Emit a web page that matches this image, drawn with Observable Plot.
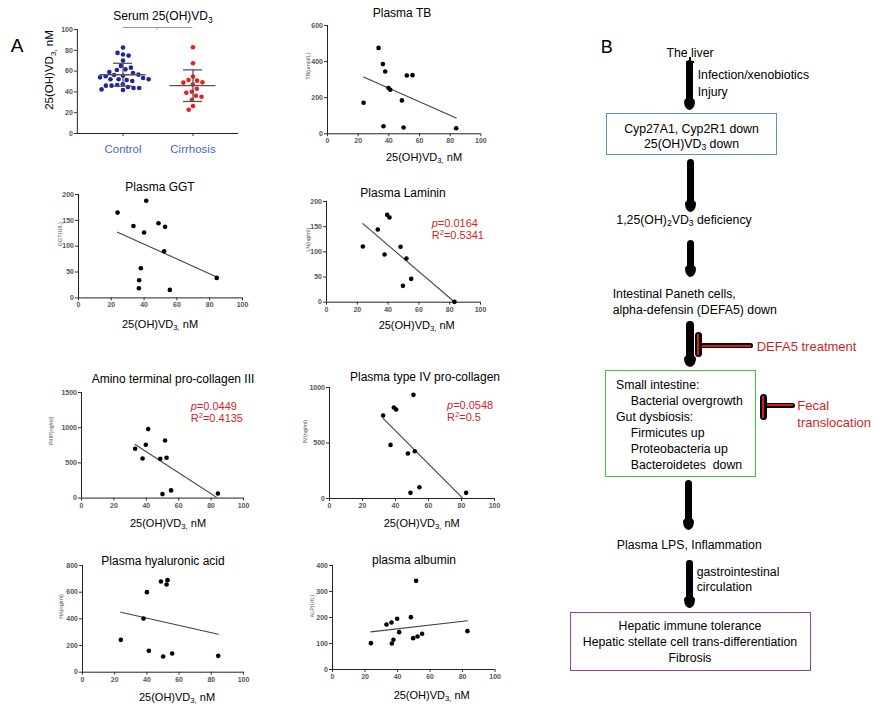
<!DOCTYPE html>
<html><head><meta charset="utf-8">
<script src="https://cdn.jsdelivr.net/npm/d3@7"></script>
<script src="https://cdn.jsdelivr.net/npm/@observablehq/plot@0.6"></script>
<style>
body{margin:0;background:#fff;}
#fig{position:relative;width:884px;height:709px;overflow:hidden;background:#fff;font-family:"Liberation Sans",Arial,sans-serif;color:#000;}
.abs{position:absolute;white-space:nowrap;line-height:1;}
sub{font-size:70%;vertical-align:-0.3em;line-height:0;}
sup{font-size:70%;vertical-align:0.45em;line-height:0;}
.shape{position:absolute;box-sizing:border-box;}
</style></head><body><div id="fig"></div>
<script>
// ---------------- data ----------------
const groups = ["Control", "Cirrhosis"];
const controlVD = [82.6,75.9,77.5,74.9,70.1,65.0,61.7,61.1,63.3,58.2,55.6,56.3,59.2,56.6,55.0,52.1,51.4,53.4,50.5,52.1,54.0,52.1,47.3,44.7,46.6,46.0,43.7,43.7,46.0,42.4,41.8];
const cirrhosisVD = [83,67.5,54.7,51.4,50.8,49.2,48.9,47,43,40.2,39.2,36.3,35.4,32.4,26.4,22.8];
const groupMean = [56.5, 46.0];
const groupSD = [11.0, 15.2];
const vdTicks = [0,20,40,60,80,100];

const xTicks = [0,20,40,60,80,100];
const tbX = [23.5,33.3,36.1,37.6,39.8,40.9,36.5,48.5,49.6,51.7,55.4,83.9];
const tbY = [172,476,386,345,253,244,42,185,35,323,325,31];
const tbTicks = [0,200,400,600];
const ggtX = [23.8,33.5,40,41.3,48.8,52.8,52.2,38,37,36.8,55.7,84.3];
const ggtY = [165,139,126.5,188,144.5,137.4,90.3,57.4,34.2,18.7,15.5,38.7];
const ggtTicks = [0,50,100,150,200];
const lnX = [23.6,33.3,39.4,40.9,37.7,48.1,51.9,55,49.6,83.1];
const lnY = [110.6,144.4,173.5,168.2,94.7,110,86.8,46.4,32.5,0.7];
const lnTicks = [0,50,100,150,200];
const piiipX = [33.1,37.7,39.7,41.2,48.6,51.6,52.5,50,55.3,84.2];
const piiipY = [700,563,757,980,558,819,573,57,109,66];
const piiipTicks = [0,500,1000,1500];
const ivcX = [32.5,37,39,40.4,47.5,50.9,51.7,49.1,54.5,82.8];
const ivcY = [748,483,820,802,405,934,426,51,102,51];
const ivcTicks = [0,500,1000];
const haX = [23.8,37.9,40,41.2,48.7,52.2,52.8,50.1,55.7,84.3];
const haY = [242.5,402.5,600,160,680,657.5,690,117.5,140,122.5];
const haTicks = [0,200,400,600,800];
const albX = [23.6,33.2,36.3,39.8,36.5,37.5,41,48.2,49.6,52.3,51.4,55.1,83];
const albY = [101.3,173,180.8,194.9,100,114.1,143.6,201.3,120.5,126.9,341,137.2,147.4];
const albTicks = [0,100,200,300,400];

const xLabelHTML = "25(OH)VD<sub>3,</sub> nM";

// ---------------- helpers ----------------
const fig = document.getElementById("fig");
const FONT = "Liberation Sans, Arial, sans-serif";
function put(html, x, y, {anchor = "c", size = 12, color = "#000", rotate = 0, style = ""} = {}) {
  const d = document.createElement("div");
  d.className = "abs";
  d.innerHTML = html;
  d.style.cssText += `left:${x}px;top:${y}px;font-size:${size}px;color:${color};${style}`;
  let t = anchor === "c" ? "translate(-50%,-50%)" : "translate(0,-50%)";
  if (rotate) t += ` rotate(${rotate}deg)`;
  d.style.transform = t;
  fig.appendChild(d);
  return d;
}
function shape(x, y, w, h, css) {
  const d = document.createElement("div");
  d.className = "shape";
  d.style.cssText += `left:${x}px;top:${y}px;width:${w}px;height:${h}px;${css}`;
  fig.appendChild(d);
  return d;
}
function place(svg, left, top) {
  svg.style.position = "absolute";
  svg.style.left = left + "px";
  svg.style.top = top + "px";
  fig.appendChild(svg);
}
const tickStyle = {tickSize: 3, tickPadding: 1.5, fontSize: 7, fontWeight: "bold", fill: "#555", stroke: "#333", label: null, tickFormat: d => String(d)};

// ---------------- panel A: dot plot ----------------
{
  const frame = [76, 29, 238, 133];
  const ml = 30, mr = 4, mt = 8, mb = 28;
  const fw = frame[2] - frame[0];
  const pad = 0.3;
  const po = fw / (2 + pad) * pad;         // outer padding in px
  const bw = fw / (2 + pad) * (1 - pad);   // facet width in px
  const vdData = [
    ...controlVD.map(v => ({g: groups[0], v})),
    ...cirrhosisVD.map(v => ({g: groups[1], v}))
  ];
  const stats = groups.map((g, i) => ({g, mean: groupMean[i], lo: groupMean[i] - groupSD[i], hi: groupMean[i] + groupSD[i]}));
  const top = vdTicks[vdTicks.length - 1];
  const svg = Plot.plot({
    width: fw + ml + mr, height: frame[3] - frame[1] + mt + mb,
    marginLeft: ml, marginRight: mr, marginTop: mt, marginBottom: mb,
    style: {background: "transparent", overflow: "visible", fontFamily: FONT, maxWidth: "none"},
    fx: {domain: groups, paddingInner: pad, paddingOuter: pad, label: null, axis: null},
    x: {domain: [0, 1], axis: null},
    y: {domain: [0, top]},
    color: {domain: groups, range: ["#1f22a6", "#f01c1c"]},
    marks: [
      Plot.axisY({...tickStyle, ticks: vdTicks, dx: -po}),
      Plot.ruleX([0], {y1: 0, y2: top, dx: -po, stroke: "#222", facetAnchor: "left"}),
      Plot.ruleY([0], {stroke: "#222", insetLeft: -po, insetRight: -po}),
      Plot.axisFx({anchor: "bottom", tickSize: 3, fill: "none", stroke: "#333", label: null}),
      Plot.axisFx({anchor: "bottom", tickSize: 0, tickPadding: 11, fontSize: 11.5, fill: "#3f67cc", label: null}),
      Plot.dot(vdData, Plot.dodgeX({anchor: "middle", padding: 1.1}, {fx: "g", y: "v", r: 2.3, fill: "g"})),
      Plot.tickY(stats, {fx: "g", y: "mean", stroke: "#555", strokeWidth: 1.3, insetLeft: 1.5, insetRight: 1.5}),
      Plot.tickY(stats, {fx: "g", y: "lo", stroke: "#555", strokeWidth: 1.3, insetLeft: 15, insetRight: 15}),
      Plot.tickY(stats, {fx: "g", y: "hi", stroke: "#555", strokeWidth: 1.3, insetLeft: 15, insetRight: 15}),
      Plot.ruleX(stats, {fx: "g", x: null, y1: "lo", y2: "hi", stroke: "#555", strokeWidth: 1.3}),
      Plot.tickY([{g: groups[0]}], {fx: "g", y: () => top, dy: -2, stroke: "#999", insetLeft: bw / 2, insetRight: -po / 2}),
      Plot.tickY([{g: groups[1]}], {fx: "g", y: () => top, dy: -2, stroke: "#999", insetLeft: -po / 2, insetRight: bw / 2}),
      Plot.text([{g: groups[0]}], {fx: "g", y: () => top, text: () => "*", frameAnchor: "right", dx: po / 2, dy: 1, fontSize: 6, fill: "#999"})
    ]
  });
  place(svg, frame[0] - ml, frame[1] - mt);
  put("Serum 25(OH)VD<sub>3</sub>", 163, 16, {size: 12});
  put("25(OH)VD<sub>3,</sub> nM", 50, 70, {size: 11.5, rotate: -90});
  put("A", 17, 45, {size: 19});
}

// ---------------- panel A: scatter plots ----------------
const scatters = [
  {title: "Plasma TB", X: tbX, Y: tbY, ticks: tbTicks, ylabel: "TB(umol/L)",
   frame: [327.3, 24.7, 480.7, 133], yOff: 19, titleAt: [402, 13], xlabAt: [424, 157]},
  {title: "Plasma GGT", X: ggtX, Y: ggtY, ticks: ggtTicks, ylabel: "GGT(U/L)",
   frame: [78.3, 194.3, 242.3, 297.7], yOff: 18, titleAt: [160, 186.7], xlabAt: [160, 324]},
  {title: "Plasma Laminin", X: lnX, Y: lnY, ticks: lnTicks, ylabel: "LN(ng/ml)",
   frame: [326, 201, 480, 301.7], yOff: 18, titleAt: [403, 192.7], xlabAt: [416.7, 325],
   note: ["0.0164", "0.5341"], noteAt: [431.7, 223]},
  {title: "Amino terminal pro-collagen III", X: piiipX, Y: piiipY, ticks: piiipTicks, ylabel: "PIIIP(ng/ml)",
   frame: [80.7, 391.7, 242.7, 497.3], yOff: 30, titleAt: [173, 379], xlabAt: [168, 523],
   note: ["0.0449", "0.4135"], noteAt: [190.7, 406]},
  {title: "Plasma type IV pro-collagen", X: ivcX, Y: ivcY, ticks: ivcTicks, ylabel: "Ⅳ(ng/ml)",
   frame: [329, 387.3, 494, 498.3], yOff: 24, titleAt: [425, 376.7], xlabAt: [421.7, 523],
   note: ["0.0548", "0.5"], noteAt: [447, 405]},
  {title: "Plasma hyaluronic acid", X: haX, Y: haY, ticks: haTicks, ylabel: "HA(ng/ml)",
   frame: [81.7, 565, 242.7, 671.7], yOff: 21, titleAt: [163, 560.7], xlabAt: [177, 696.7]},
  {title: "plasma albumin", X: albX, Y: albY, ticks: albTicks, ylabel: "ALP(U/L)",
   frame: [331.7, 565, 494.3, 669], yOff: 20, titleAt: [414, 560], xlabAt: [431.7, 695]}
];

for (const s of scatters) {
  const [fl, ft, fr, fb] = s.frame;
  const ml = 36, mr = 6, mt = 4, mb = 14;
  const data = s.X.map((x, i) => ({x, y: s.Y[i]}));
  const yMax = s.ticks[s.ticks.length - 1];
  const svg = Plot.plot({
    width: fr - fl + ml + mr, height: fb - ft + mt + mb,
    marginLeft: ml, marginRight: mr, marginTop: mt, marginBottom: mb,
    style: {background: "transparent", overflow: "visible", fontFamily: FONT, maxWidth: "none"},
    x: {domain: [xTicks[0], xTicks[xTicks.length - 1]]},
    y: {domain: [0, yMax]},
    marks: [
      Plot.axisX({...tickStyle, ticks: xTicks}),
      Plot.axisY({...tickStyle, ticks: s.ticks}),
      Plot.ruleY([0], {stroke: "#222"}),
      Plot.ruleX([0], {stroke: "#222"}),
      Plot.linearRegressionY(data, {x: "x", y: "y", ci: 0, stroke: "#444", strokeWidth: 1.1, clip: true}),
      Plot.dot(data, {x: "x", y: "y", r: 2.3, fill: "#000"}),
      Plot.text([s.ylabel], {text: d => d, frameAnchor: "left", rotate: -90, dx: -s.yOff, fontSize: 5.5, fill: "#555"})
    ]
  });
  place(svg, fl - ml, ft - mt);
  put(s.title, s.titleAt[0], s.titleAt[1], {size: 12});
  put(xLabelHTML, s.xlabAt[0], s.xlabAt[1], {size: 11});
  if (s.note) {
    put(`<i>p</i>=${s.note[0]}`, s.noteAt[0], s.noteAt[1], {anchor: "l", size: 11, color: "#d21f26"});
    put(`R<sup>2</sup>=${s.note[1]}`, s.noteAt[0], s.noteAt[1] + 11.7, {anchor: "l", size: 11, color: "#d21f26"});
  }
}

// ---------------- panel B: flow diagram ----------------
const FS = 12.3;
function arrow(x, y1, y2, w = 7, tail = false) {
  shape(x - w / 2, y1, w, y2 - y1 - 5, `background:#000;border-radius:${w / 2}px;`);
  shape(x - (w + 4) / 2, y2 - 12, w + 4, 12, "background:#000;border-radius:45% 45% 50% 50% / 30% 30% 70% 70%;");
  if (tail) {
    shape(x - 4, y1 + 1, 8, 2, "background:#000;");
    shape(x - 1, y1 - 3, 2, 6, "background:#000;");
  }
}
function inhibit(xBar, yTop, yBot, xEnd, yLine) {
  shape(xBar, yLine - 2.5, xEnd - xBar, 5, "background:#000;border-radius:2.5px;");
  shape(xBar, yLine - 1, xEnd - xBar - 2, 2, "background:#e01818;");
  shape(xBar - 3.5, yTop, 7, yBot - yTop, "background:#000;border-radius:3.5px;");
  shape(xBar - 1, yTop + 2, 2, yBot - yTop - 4, "background:#e01818;");
}

put("B", 606.7, 46.7, {size: 18});
put("The liver", 690, 52.7, {size: FS});
arrow(689.5, 60, 110, 7, true);
put("Infection/xenobiotics", 697.7, 75, {anchor: "l", size: FS});
put("Injury", 697.7, 91.7, {anchor: "l", size: FS});

shape(605.7, 113.3, 171.6, 42, "border:1px solid #5a93c0;");
put("Cyp27A1, Cyp2R1 down", 691.5, 129.3, {size: FS});
put("25(OH)VD<sub>3</sub> down", 691.5, 144, {size: FS});

arrow(690, 159, 212);
put("1,25(OH)<sub>2</sub>VD<sub>3</sub> deficiency", 684, 220, {size: FS});
arrow(690, 240, 277);
put("Intestinal Paneth cells,", 612.7, 294, {anchor: "l", size: FS});
put("alpha-defensin (DEFA5) down", 612.7, 310, {anchor: "l", size: FS});
arrow(689.5, 321, 367, 8);
inhibit(698.3, 332, 357, 753.3, 345.7);
put("DEFA5 treatment", 756.7, 345.7, {anchor: "l", size: 13, color: "#d21f26"});

shape(605, 370, 151, 107.3, "border:1px solid #3ec43e;");
put("Small intestine:", 616, 385, {anchor: "l", size: FS});
put("Bacterial overgrowth", 630.7, 400.7, {anchor: "l", size: FS});
put("Gut dysbiosis:", 616, 416.7, {anchor: "l", size: FS});
put("Firmicutes up", 630.7, 432.7, {anchor: "l", size: FS});
put("Proteobacteria up", 630.7, 449, {anchor: "l", size: FS});
put("Bacteroidetes&nbsp; down", 630.7, 465, {anchor: "l", size: FS});
inhibit(763.3, 394, 420, 795, 405);
put("Fecal", 797.3, 405, {anchor: "l", size: 13, color: "#d21f26"});
put("translocation", 797.3, 421.7, {anchor: "l", size: 13, color: "#d21f26"});

arrow(688, 480, 530);
put("Plasma LPS, Inflammation", 689.3, 545, {size: FS});
arrow(689.3, 560, 608, 6.5);
put("gastrointestinal", 696.7, 571.7, {anchor: "l", size: FS});
put("circulation", 696.7, 587.3, {anchor: "l", size: FS});

shape(570, 612.3, 240.7, 58.4, "border:1px solid #a03ca0;");
put("Hepatic immune tolerance", 690, 626, {size: FS});
put("Hepatic stellate cell trans-differentiation", 690, 642.3, {size: FS});
put("Fibrosis", 690, 658, {size: FS});
</script></body></html>
